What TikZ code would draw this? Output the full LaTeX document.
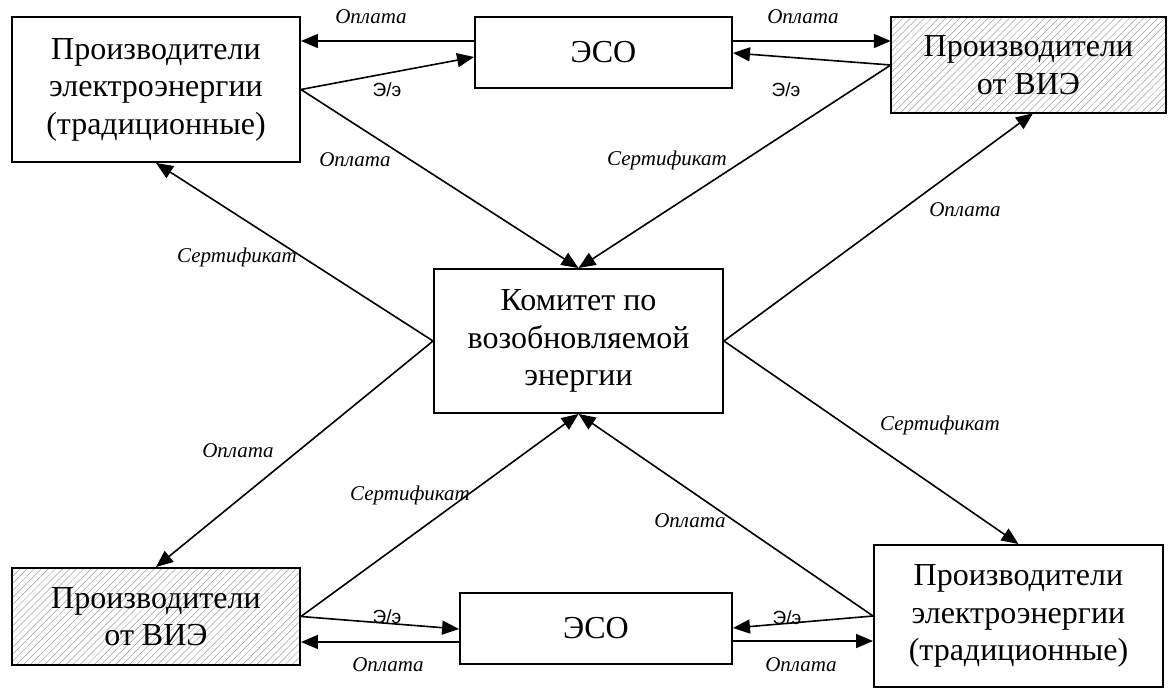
\documentclass[tikz,border=0pt]{standalone}
\usepackage{fontspec}
\setmainfont{Liberation Serif}
\newfontfamily\lsans{Liberation Sans}
\usetikzlibrary{arrows.meta,patterns.meta,calc}
\begin{document}
\begin{tikzpicture}[x=1pt,y=-1pt,
 box/.style={draw,line width=1.9pt,align=center,inner sep=0pt,font=\fontsize{32}{37.5}\selectfont},
 hatch/.style={box,pattern={Lines[angle=45,distance=5pt,line width=0.5pt]},pattern color=gray!75},
 arr/.style={line width=1.6pt,-{Triangle[length=17pt,width=14pt]}},
 lab/.style={font=\fontsize{21}{24}\selectfont\itshape,inner sep=0pt},
 ee/.style={font=\lsans\fontsize{19}{22}\selectfont,inner sep=0pt}]
\useasboundingbox (0,0) rectangle (1168,688);
% boxes
\node[box,minimum width=288pt,minimum height=145pt] (TL) at (156,89.5) {Производители\\электроэнергии\\(традиционные)};
\node[box,minimum width=257pt,minimum height=71pt] (ESOt) at (603.5,52.5) {ЭСО};
\node[hatch,minimum width=275pt,minimum height=96pt] (TR) at (1028.5,65) {Производители\\от ВИЭ};
\node[box,minimum width=289pt,minimum height=144pt] (C) at (578.5,341) {Комитет по\\возобновляемой\\энергии};
\node[hatch,minimum width=288pt,minimum height=97pt] (BL) at (156,616.5) {Производители\\от ВИЭ};
\node[box,minimum width=272pt,minimum height=71pt] (ESOb) at (596,628.5) {ЭСО};
\node[box,minimum width=289pt,minimum height=142pt] (BR) at (1018.5,616) {Производители\\электроэнергии\\(традиционные)};
% top connectors
\draw[arr] (ESOt.west |- 0,41) -- (TL.east |- 0,41);
\draw[arr] (TL.east) -- (ESOt.west |- 0,57);
\draw[arr] (ESOt.east |- 0,41) -- (TR.west |- 0,41);
\draw[arr] (TR.west) -- (ESOt.east |- 0,53);
\draw[arr] (TL.east) -- (C.north);
\draw[arr] (TR.west) -- (C.north);
% middle connectors
\draw[arr] (C.west) -- (TL.south);
\draw[arr] (C.east) -- (TR.south -| 1033,0);
\draw[arr] (C.west) -- (BL.north);
\draw[arr] (C.east) -- (BR.north);
\draw[arr] (BL.east) -- (C.south);
\draw[arr] (BR.west) -- (C.south);
% bottom connectors
\draw[arr] (BL.east) -- (ESOb.west |- 0,629);
\draw[arr] (ESOb.west |- 0,642) -- (BL.east |- 0,642);
\draw[arr] (BR.west) -- (ESOb.east |- 0,628);
\draw[arr] (ESOb.east |- 0,641) -- (BR.west |- 0,641);
% labels
\node[lab] (l1) at (371,17) {Оплата};
\node[ee] (l2) at (387,90) {Э/э};
\node[lab] (l3) at (803,17) {Оплата};
\node[ee] (l4) at (786,90) {Э/э};
\node[lab] (l5) at (355,160) {Оплата};
\node[lab] (l6) at (667,160) {Сертификат};
\node[lab] (l7) at (237,257) {Сертификат};
\node[lab] (l8) at (965,210) {Оплата};
\node[lab] (l9) at (238,451) {Оплата};
\node[lab] (l10) at (940,425) {Сертификат};
\node[lab] (l11) at (410,495) {Сертификат};
\node[lab] (l12) at (690,521) {Оплата};
\node[ee] (l13) at (387,617) {Э/э};
\node[lab] (l14) at (388,665) {Оплата};
\node[ee] (l15) at (787,618) {Э/э};
\node[lab] (l16) at (801,665) {Оплата};
\end{tikzpicture}
\end{document}
